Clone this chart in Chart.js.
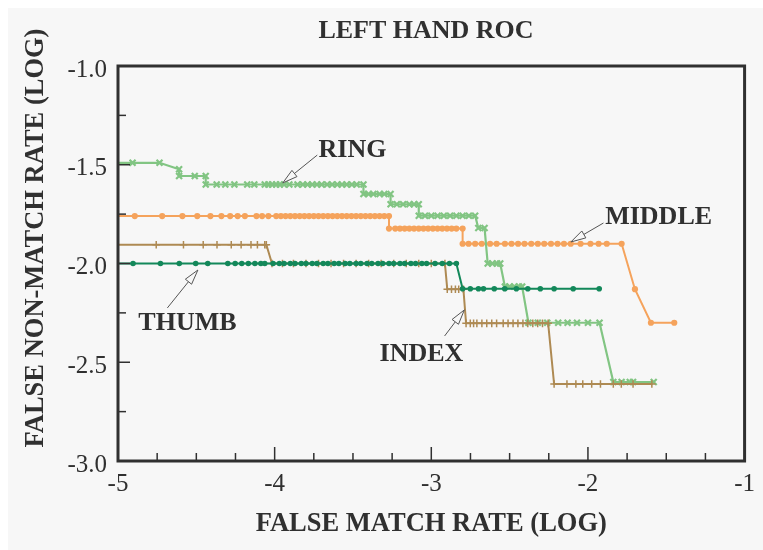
<!DOCTYPE html>
<html>
<head>
<meta charset="utf-8">
<script src="https://cdn.jsdelivr.net/npm/chart.js@4.4.1/dist/chart.umd.min.js"></script>
<style>
  html, body { margin: 0; padding: 0; background: #ffffff; }
  #wrap { width: 763px; height: 550px; }
</style>
</head>
<body>
<div id="wrap"><canvas id="roc" width="763" height="550"></canvas></div>
<script>
// values (log10 scale on both axes)
const ringX = [-5, -4.907, -4.735, -4.61, -4.61, -4.51, -4.44, -4.44, -4.37, -4.315, -4.257, -4.175, -4.13, -4.063, -4.04, -4.017, -3.99, -3.967, -3.94, -3.906, -3.854, -3.82, -3.79, -3.76, -3.73, -3.70, -3.665, -3.633, -3.60, -3.57, -3.54, -3.507, -3.476, -3.433,
  -3.433, -3.40, -3.37, -3.33, -3.30, -3.26, -3.26, -3.22, -3.18, -3.14, -3.11, -3.08, -3.08, -3.04, -3.00, -2.96, -2.92, -2.88, -2.84, -2.80, -2.76, -2.72, -2.70, -2.66,
  -2.64, -2.61, -2.58, -2.56, -2.53, -2.50, -2.47, -2.44, -2.42, -2.38, -2.32, -2.26, -2.19, -2.13, -2.07, -2.00, -1.926, -1.838, -1.785, -1.733, -1.712, -1.58];
const ringY = [-1.49, -1.49, -1.49, -1.523, -1.557, -1.557, -1.557, -1.6, -1.6, -1.6, -1.6, -1.6, -1.6, -1.6, -1.6, -1.6, -1.6, -1.6, -1.6, -1.6, -1.6, -1.6, -1.6, -1.6, -1.6, -1.6, -1.6, -1.6, -1.6, -1.6, -1.6, -1.6, -1.6, -1.6,
  -1.648, -1.648, -1.648, -1.648, -1.648, -1.648, -1.70, -1.70, -1.70, -1.70, -1.70, -1.70, -1.758, -1.758, -1.758, -1.758, -1.758, -1.758, -1.758, -1.758, -1.758, -1.758, -1.82, -1.82,
  -2.0, -2.0, -2.0, -2.0, -2.117, -2.117, -2.117, -2.117, -2.117, -2.30, -2.30, -2.30, -2.30, -2.30, -2.30, -2.30, -2.30, -2.60, -2.60, -2.60, -2.60, -2.60];

const middleX = [-5, -4.893, -4.718, -4.589, -4.494, -4.41, -4.34, -4.284, -4.236, -4.19, -4.116, -4.08, -4.04, -3.99, -3.96, -3.93, -3.90, -3.87, -3.84, -3.81, -3.78, -3.75, -3.72, -3.69, -3.66, -3.63, -3.60, -3.57, -3.54, -3.51, -3.48, -3.45, -3.42, -3.39, -3.36, -3.33, -3.30, -3.27,
  -3.27, -3.23, -3.20, -3.17, -3.14, -3.11, -3.08, -3.05, -3.02, -2.99, -2.96, -2.93, -2.90, -2.87, -2.84, -2.80,
  -2.80, -2.762, -2.72, -2.678, -2.625, -2.583, -2.53, -2.488, -2.446, -2.405, -2.362, -2.32, -2.279, -2.236, -2.194, -2.153, -2.11, -2.047, -1.984, -1.932, -1.88, -1.785, -1.70, -1.598, -1.449];
const middleY = [-1.76, -1.76, -1.76, -1.76, -1.76, -1.76, -1.76, -1.76, -1.76, -1.76, -1.76, -1.76, -1.76, -1.76, -1.76, -1.76, -1.76, -1.76, -1.76, -1.76, -1.76, -1.76, -1.76, -1.76, -1.76, -1.76, -1.76, -1.76, -1.76, -1.76, -1.76, -1.76, -1.76, -1.76, -1.76, -1.76, -1.76, -1.76,
  -1.823, -1.823, -1.823, -1.823, -1.823, -1.823, -1.823, -1.823, -1.823, -1.823, -1.823, -1.823, -1.823, -1.823, -1.823, -1.823,
  -1.90, -1.90, -1.90, -1.90, -1.90, -1.90, -1.90, -1.90, -1.90, -1.90, -1.90, -1.90, -1.90, -1.90, -1.90, -1.90, -1.90, -1.90, -1.90, -1.90, -1.90, -1.90, -2.13, -2.30, -2.30];

const indexX = [-5, -4.904, -4.729, -4.609, -4.504, -4.427, -4.299, -4.252, -4.21, -4.168, -4.126, -4.088, -4.063, -4.01, -3.97, -3.94, -3.90, -3.87, -3.83, -3.80, -3.76, -3.73, -3.69, -3.66, -3.62, -3.59, -3.55, -3.52, -3.48, -3.45, -3.41, -3.38, -3.34, -3.31, -3.27, -3.24, -3.20, -3.17, -3.13, -3.10, -3.06, -3.03, -2.976, -2.93, -2.884, -2.84,
  -2.80, -2.751, -2.699, -2.667, -2.598, -2.531, -2.457, -2.384, -2.304, -2.216, -2.094, -1.928];
const indexY = [-2.0, -2.0, -2.0, -2.0, -2.0, -2.0, -2.0, -2.0, -2.0, -2.0, -2.0, -2.0, -2.0, -2.0, -2.0, -2.0, -2.0, -2.0, -2.0, -2.0, -2.0, -2.0, -2.0, -2.0, -2.0, -2.0, -2.0, -2.0, -2.0, -2.0, -2.0, -2.0, -2.0, -2.0, -2.0, -2.0, -2.0, -2.0, -2.0, -2.0, -2.0, -2.0, -2.0, -2.0, -2.0, -2.0,
  -2.128, -2.128, -2.128, -2.128, -2.128, -2.128, -2.128, -2.128, -2.128, -2.128, -2.128, -2.128];

const thumbX = [-5, -4.756, -4.582, -4.456, -4.368, -4.277, -4.214, -4.151, -4.11, -4.063, -4.053, -4.017, -3.95, -3.88, -3.80, -3.72, -3.64, -3.56, -3.48, -3.40, -3.32, -3.24, -3.16, -3.08, -3.00, -2.913,
  -2.898, -2.871, -2.846, -2.825, -2.795, -2.778, -2.751, -2.73, -2.709, -2.677, -2.646, -2.614, -2.583, -2.541, -2.51, -2.478, -2.447, -2.415, -2.384, -2.352, -2.321, -2.29, -2.254,
  -2.216, -2.134, -2.077, -2.033, -1.976, -1.92, -1.838, -1.787, -1.712, -1.592];
const thumbY = [-1.905, -1.905, -1.905, -1.905, -1.905, -1.905, -1.905, -1.905, -1.905, -1.905, -1.905, -2.0, -2.0, -2.0, -2.0, -2.0, -2.0, -2.0, -2.0, -2.0, -2.0, -2.0, -2.0, -2.0, -2.0, -2.0,
  -2.13, -2.13, -2.13, -2.13, -2.13, -2.303, -2.303, -2.303, -2.303, -2.303, -2.303, -2.303, -2.303, -2.303, -2.303, -2.303, -2.303, -2.303, -2.303, -2.303, -2.303, -2.303, -2.303,
  -2.61, -2.61, -2.61, -2.61, -2.61, -2.61, -2.61, -2.61, -2.61, -2.61];

const xTicks = [-5, -4, -3, -2, -1];
const yTicks = [-3.0, -2.5, -2.0, -1.5, -1.0];

// callout labels with their arrows (data coordinates)
const calloutText = ['RING', 'MIDDLE', 'THUMB', 'INDEX'];
const calloutTextX = [-3.72, -1.89, -4.87, -3.33];
const calloutTextY = [-1.425, -1.765, -2.301, -2.458];
const calloutTipX = [-3.948, -2.109, -4.490, -2.789];
const calloutTipY = [-1.592, -1.891, -2.033, -2.235];
const calloutTailX = [-3.728, -1.901, -4.685, -2.915];
const calloutTailY = [-1.451, -1.795, -2.225, -2.367];

const BG = '#f7f7f7';
const INK = '#303030';
const SERIF = '"Liberation Serif", "Times New Roman", serif';

function pts(xs, ys) {
    return xs.map((x, i) => ({ x: x, y: ys[i] }));
}

function radius(r) {
    return c => (c.raw && c.raw.x <= -5) ? 0 : r;
}

function drawArrow(ctx, tx, ty, fx, fy) {
    let dx = fx - tx, dy = fy - ty;
    let len = Math.sqrt(dx * dx + dy * dy);
    let ux = dx / len, uy = dy / len;
    let bx = tx + ux * 15, by = ty + uy * 15;
    let px = -uy * 4, py = ux * 4;
    ctx.beginPath();
    ctx.moveTo(bx, by);
    ctx.lineTo(fx, fy);
    ctx.strokeStyle = '#555';
    ctx.lineWidth = 1;
    ctx.stroke();
    ctx.beginPath();
    ctx.moveTo(tx, ty);
    ctx.lineTo(bx + px, by + py);
    ctx.lineTo(bx - px, by - py);
    ctx.closePath();
    ctx.fillStyle = BG;
    ctx.fill();
    ctx.stroke();
}

const decorPlugin = {
    id: 'decor',
    beforeDraw(chart) {
        const ctx = chart.ctx;
        ctx.save();
        ctx.fillStyle = '#ffffff';
        ctx.fillRect(0, 0, chart.width, chart.height);
        ctx.fillStyle = BG;
        ctx.fillRect(8, 8, chart.width - 8, chart.height - 8);
        ctx.restore();
    },
    afterDatasetsDraw(chart) {
        const ctx = chart.ctx;
        const xs = chart.scales.x, ys = chart.scales.y;
        const a = chart.chartArea;
        ctx.save();

        // inward tick marks
        ctx.strokeStyle = INK;
        ctx.lineWidth = 1.5;
        for (let v = -5; v <= -1.0001; v += 0.25) {
            let major = Math.abs(v - Math.round(v)) < 1e-6;
            let px = xs.getPixelForValue(v);
            ctx.beginPath();
            ctx.moveTo(px, a.bottom);
            ctx.lineTo(px, a.bottom - (major ? 14 : 8));
            ctx.stroke();
        }
        for (let v = -3; v <= -1.0001; v += 0.25) {
            let major = Math.abs(v * 2 - Math.round(v * 2)) < 1e-6;
            let py = ys.getPixelForValue(v);
            ctx.beginPath();
            ctx.moveTo(a.left, py);
            ctx.lineTo(a.left + (major ? 12 : 8), py);
            ctx.stroke();
        }

        // frame
        ctx.lineWidth = 3;
        ctx.strokeStyle = INK;
        ctx.strokeRect(a.left, a.top, a.right - a.left, a.bottom - a.top);

        // callouts
        ctx.font = 'bold 26px ' + SERIF;
        ctx.fillStyle = INK;
        ctx.textAlign = 'left';
        ctx.textBaseline = 'middle';
        calloutText.forEach((t, i) => {
            drawArrow(ctx,
                xs.getPixelForValue(calloutTipX[i]), ys.getPixelForValue(calloutTipY[i]),
                xs.getPixelForValue(calloutTailX[i]), ys.getPixelForValue(calloutTailY[i]));
            ctx.fillStyle = INK;
            ctx.fillText(t, xs.getPixelForValue(calloutTextX[i]), ys.getPixelForValue(calloutTextY[i]));
        });

        // chart title
        ctx.font = 'bold 26px ' + SERIF;
        ctx.textAlign = 'center';
        ctx.fillText('LEFT HAND ROC', 426, 31);

        // y axis title
        ctx.translate(36, 238);
        ctx.rotate(-Math.PI / 2);
        ctx.font = 'bold 26.5px ' + SERIF;
        ctx.fillText('FALSE NON-MATCH RATE (LOG)', 0, 0);
        ctx.restore();
    }
};

const ctx = document.getElementById('roc').getContext('2d');
new Chart(ctx, {
    type: 'scatter',
    data: {
        datasets: [
            {
                label: 'INDEX',
                data: pts(indexX, indexY),
                showLine: true,
                borderColor: '#13885a',
                backgroundColor: '#13885a',
                borderWidth: 2,
                pointStyle: 'circle',
                pointRadius: radius(2.8),
                pointBorderWidth: 0
            },
            {
                label: 'THUMB',
                data: pts(thumbX, thumbY),
                showLine: true,
                borderColor: '#ae8a53',
                backgroundColor: '#ae8a53',
                borderWidth: 2,
                pointStyle: 'cross',
                pointRadius: radius(3.8),
                pointBorderWidth: 1.5
            },
            {
                label: 'RING',
                data: pts(ringX, ringY),
                showLine: true,
                borderColor: '#82c583',
                backgroundColor: '#82c583',
                borderWidth: 2.2,
                pointStyle: 'crossRot',
                pointRadius: radius(4.2),
                pointBorderWidth: 2.2
            },
            {
                label: 'MIDDLE',
                data: pts(middleX, middleY),
                showLine: true,
                borderColor: '#f5a35c',
                backgroundColor: '#f5a35c',
                borderWidth: 2,
                pointStyle: 'circle',
                pointRadius: radius(3.1),
                pointBorderWidth: 0
            }
        ]
    },
    options: {
        responsive: false,
        animation: false,
        layout: { padding: { left: 0, right: 10, top: 66, bottom: 0 } },
        plugins: {
            legend: { display: false },
            tooltip: { enabled: false },
            title: { display: false }
        },
        scales: {
            x: {
                type: 'linear',
                min: -5,
                max: -1,
                afterBuildTicks: s => { s.ticks = xTicks.map(v => ({ value: v })); },
                afterFit: s => { s.height = 89; },
                grid: { display: false, drawTicks: false },
                border: { display: false },
                ticks: {
                    callback: v => String(v),
                    color: INK,
                    padding: 8,
                    font: { family: SERIF, size: 25 }
                },
                title: {
                    display: true,
                    text: 'FALSE MATCH RATE (LOG)',
                    color: INK,
                    font: { family: SERIF, size: 26.5, weight: 'bold' },
                    padding: { top: 0, bottom: 10 }
                }
            },
            y: {
                type: 'linear',
                min: -3,
                max: -1,
                afterBuildTicks: s => { s.ticks = yTicks.map(v => ({ value: v })); },
                afterFit: s => { s.width = 118; },
                grid: { display: false, drawTicks: false },
                border: { display: false },
                ticks: {
                    callback: v => v.toFixed(1),
                    color: INK,
                    padding: 11,
                    labelOffset: 4,
                    font: { family: SERIF, size: 25 }
                }
            }
        }
    },
    plugins: [decorPlugin]
});
</script>
</body>
</html>
